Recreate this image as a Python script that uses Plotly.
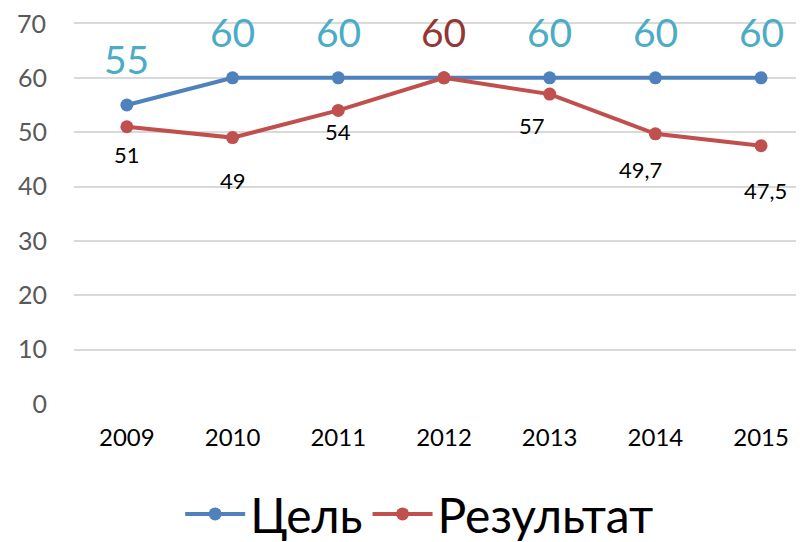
import plotly.graph_objects as go

years = ["2009", "2010", "2011", "2012", "2013", "2014", "2015"]
goal = [55, 60, 60, 60, 60, 60, 60]
result = [51, 49, 54, 60, 57, 49.7, 47.5]
y_ticks = [0, 10, 20, 30, 40, 50, 60, 70]

blue = "#4F81BD"
red = "#C0504D"
font = "Lato, Carlito, Calibri, sans-serif"

fig = go.Figure()
fig.add_trace(go.Scatter(x=years, y=goal, mode="lines+markers", name="Цель",
                         line=dict(color=blue, width=4), marker=dict(size=13, color=blue)))
fig.add_trace(go.Scatter(x=years, y=result, mode="lines+markers", name="Результат",
                         line=dict(color=red, width=4), marker=dict(size=13, color=red)))

# goal labels above the points (2012 is covered by the result's label)
for i, (yr, v) in enumerate(zip(years, goal)):
    if i == 3:
        continue
    fig.add_annotation(x=i, y=v, text=f"{v:g}", showarrow=False, yshift=46,
                       font=dict(size=39, color="#4BACC6", family=font))

# result labels, offsets picked by hand to match the picture
shifts = [(0, -28), (0, -43), (0, -21), (0, 46), (-18, -31), (-15, -36), (4, -45)]
for i, (v, (dx, dy)) in enumerate(zip(result, shifts)):
    col = "#943634" if dy > 0 else "black"
    size = 39 if dy > 0 else 22
    fig.add_annotation(x=i, y=v, text=f"{v:g}".replace(".", ","), showarrow=False,
                       xshift=dx, yshift=dy, font=dict(size=size, color=col, family=font))

# plotly drops the top tick label this close to the edge, so draw it by hand
tick_text = [str(t) for t in y_ticks[:-1]] + [""]
fig.add_annotation(x=0, xref="paper", y=y_ticks[-1], yref="y", text=str(y_ticks[-1]),
                   showarrow=False, xanchor="right", xshift=-26,
                   font=dict(size=25, color="#595959", family=font))

# the page body adds an 8px margin, so the figure is drawn 8px further in
fig.update_layout(
    width=804, height=542,
    margin=dict(l=66, r=8, t=10, b=146, autoexpand=False),
    plot_bgcolor="white", paper_bgcolor="white",
    font=dict(family=font),
    xaxis=dict(type="category", range=[-0.5, 6.406], showgrid=False, showline=False,
               ticks="", tickfont=dict(size=24, color="black"), ticklabelstandoff=17,
               automargin=False),
    yaxis=dict(range=[0, 71], tickvals=y_ticks, ticktext=tick_text,
               gridcolor="#D9D9D9", gridwidth=1.5,
               zeroline=False, showline=False, tickfont=dict(size=25, color="#595959"),
               ticklabelstandoff=26, automargin=False),
    legend=dict(orientation="h", xref="container", yref="container",
                x=0.512, xanchor="center", y=0.066, yanchor="middle",
                font=dict(size=48, color="black"), tracegroupgap=0, itemwidth=60),
    showlegend=True,
)

fig.write_html("out.html")
